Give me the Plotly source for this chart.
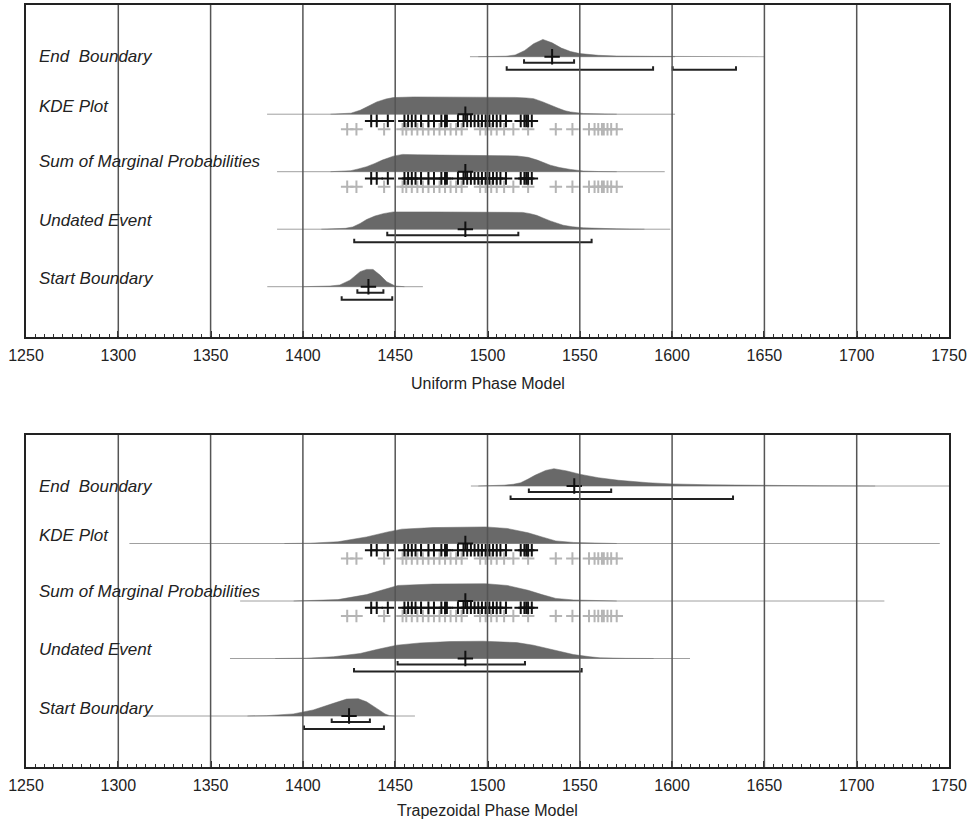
import plotly.graph_objects as go

# ---------------- data ----------------
TICK_VALUES = list(range(1250, 1751, 50))
TICK_LABELS = [str(v) for v in TICK_VALUES]
ROW_LABELS = ["End\u00a0 Boundary", "KDE Plot", "Sum of Marginal Probabilities",
              "Undated Event", "Start Boundary"]
ROW_POS = [4, 3, 2, 1, 0]
PANEL_TITLES = ["Uniform Phase Model", "Trapezoidal Phase Model"]

# Uniform phase model: density profiles (year, relative height)
U_END_X = [1495, 1505, 1510, 1515, 1520, 1525, 1530, 1535, 1540, 1545, 1550, 1560, 1570, 1590, 1620, 1650]
U_END_H = [0, 0.01, 0.03, 0.1, 0.35, 0.75, 1.0, 0.8, 0.5, 0.3, 0.18, 0.08, 0.04, 0.02, 0.01, 0]
U_KDE_X = [1415, 1421, 1426, 1431, 1436, 1440, 1445, 1449, 1460, 1480, 1500, 1515, 1521, 1525, 1530, 1534, 1538, 1542, 1545, 1552, 1560, 1570]
U_KDE_H = [0, 0.01, 0.06, 0.23, 0.5, 0.71, 0.88, 0.96, 1.0, 1.0, 0.99, 0.97, 0.94, 0.9, 0.71, 0.52, 0.36, 0.2, 0.13, 0.04, 0.01, 0]
U_SUM_X = [1415, 1421, 1426, 1430, 1434.5, 1439, 1443, 1449, 1454, 1462, 1480, 1500, 1516, 1522, 1527, 1534, 1539, 1545, 1552, 1560, 1570]
U_SUM_H = [0, 0.01, 0.06, 0.16, 0.29, 0.48, 0.67, 0.9, 1.0, 0.98, 0.96, 0.94, 0.91, 0.83, 0.67, 0.38, 0.24, 0.13, 0.04, 0.01, 0]
U_UND_X = [1410, 1418, 1423, 1427, 1431, 1434.5, 1439, 1443.6, 1449, 1470, 1500, 1519, 1523, 1526.6, 1530, 1534, 1541, 1546, 1552, 1560, 1570, 1585]
U_UND_H = [0, 0.01, 0.05, 0.13, 0.33, 0.56, 0.76, 0.9, 1.0, 1.0, 1.0, 0.97, 0.9, 0.8, 0.65, 0.48, 0.23, 0.14, 0.08, 0.04, 0.02, 0]
U_START_X = [1400, 1407.5, 1414.7, 1420, 1425.5, 1431, 1434.5, 1438, 1441.8, 1445.4, 1450, 1455]
U_START_H = [0, 0.01, 0.04, 0.1, 0.38, 0.87, 1.0, 1.0, 0.67, 0.29, 0.04, 0]
U_SPANS = [(1490.5, 1601.6), (1380.6, 1601.6), (1386, 1596), (1386, 1599), (1380.7, 1465)]
U_MEANS = [1535, 1488, 1488, 1488, 1435.5]
U_R68 = [[(1519.8, 1546.9)], [], [], [(1445.7, 1516.7)], [(1429.5, 1443.6)]]
U_R95 = [[(1510.4, 1589.7), (1600.3, 1634.6)], [], [], [(1427.8, 1556.4)], [(1421, 1448.4)]]

# Trapezoidal phase model
T_END_X = [1495, 1505, 1509, 1514, 1518, 1522, 1525.7, 1531.5, 1536, 1543, 1550.5, 1560, 1571, 1587, 1600, 1620, 1650, 1680, 1710]
T_END_H = [0, 0.02, 0.05, 0.1, 0.19, 0.4, 0.62, 0.9, 1.0, 0.87, 0.67, 0.48, 0.33, 0.19, 0.12, 0.07, 0.03, 0.01, 0]
T_KDE_X = [1390, 1404, 1419, 1434.5, 1446, 1453.6, 1470.5, 1487.8, 1499, 1510.6, 1522, 1529.5, 1537, 1546.7, 1556, 1570]
T_KDE_H = [0, 0.02, 0.1, 0.38, 0.67, 0.83, 0.92, 0.96, 0.96, 0.87, 0.62, 0.38, 0.15, 0.06, 0.02, 0]
T_SUM_X = [1395, 1408, 1419, 1434.5, 1446, 1451.5, 1470.5, 1499, 1510.6, 1522, 1529.5, 1537, 1546.7, 1556, 1570]
T_SUM_H = [0, 0.02, 0.08, 0.37, 0.71, 0.9, 0.98, 1.0, 0.9, 0.62, 0.37, 0.15, 0.06, 0.02, 0]
T_UND_X = [1385, 1402, 1416.5, 1431, 1440, 1450.8, 1463.4, 1479.7, 1497.7, 1515.8, 1524.8, 1535.7, 1546.5, 1555.5, 1561, 1575, 1590]
T_UND_H = [0, 0.02, 0.1, 0.29, 0.52, 0.77, 0.9, 0.98, 1.0, 0.92, 0.77, 0.48, 0.23, 0.1, 0.04, 0.01, 0]
T_START_X = [1370, 1380.4, 1394.8, 1405.6, 1416.5, 1423.7, 1430, 1434.5, 1440, 1444.5, 1447, 1450]
T_START_H = [0, 0.02, 0.12, 0.35, 0.73, 0.98, 1.0, 0.82, 0.44, 0.12, 0.02, 0]
T_SPANS = [(1491, 1750), (1306, 1745), (1366, 1715), (1360.5, 1609.7), (1315, 1460.7)]
T_MEANS = [1547, 1488, 1488, 1488, 1425]
T_R68 = [[(1522.4, 1567)], [], [], [(1451.3, 1520.3)], [(1415.6, 1436.3)]]
T_R95 = [[(1512.5, 1633)], [], [], [(1427.7, 1551)], [(1400.6, 1443.9)]]

# individual dated samples (shown under KDE and Sum rows)
DATES_INCLUDED = [1437, 1440, 1446, 1455, 1457, 1459, 1461, 1464, 1468, 1471, 1475, 1477, 1478,
                  1484, 1487, 1489, 1491, 1493, 1495, 1497, 1499, 1501, 1503, 1505, 1507, 1510,
                  1518, 1520, 1521, 1522, 1524]
DATES_OTHER = [1424, 1429, 1444, 1454, 1456, 1459, 1462, 1465, 1468, 1471, 1474, 1477, 1480, 1483,
               1486, 1496, 1499, 1502, 1505, 1509, 1514, 1522, 1537, 1546, 1555, 1558, 1560, 1562,
               1563, 1565, 1567, 1570]
CROSS_ROWS = [1, 2]

# ---------------- styling / layout ----------------
W, H = 971, 824
ROW_PX = 57.5
HSCALE = 17.3 / ROW_PX
LABEL_OFF = [0, 8, 10, 9, 8]  # px above baseline
X_L, X_R = 26, 949
PANELS_PX = [(5, 336.5, 286.7), (435, 767, 716)]  # top, bottom, start-baseline (px)
FONT = "Liberation Sans, Arial, sans-serif"


def px_x(px):
    return px / W


def px_y(py):
    return 1 - py / H


panels = [
    dict(dens=[(U_END_X, U_END_H), (U_KDE_X, U_KDE_H), (U_SUM_X, U_SUM_H), (U_UND_X, U_UND_H), (U_START_X, U_START_H)],
         spans=U_SPANS, means=U_MEANS, r68=U_R68, r95=U_R95),
    dict(dens=[(T_END_X, T_END_H), (T_KDE_X, T_KDE_H), (T_SUM_X, T_SUM_H), (T_UND_X, T_UND_H), (T_START_X, T_START_H)],
         spans=T_SPANS, means=T_MEANS, r68=T_R68, r95=T_R95),
]

fig = go.Figure()
shapes = []
annotations = []

for p, panel in enumerate(panels):
    xa = "x" if p == 0 else "x2"
    ya = "y" if p == 0 else "y2"
    for i in range(len(ROW_LABELS)):
        base = ROW_POS[i]
        s0, s1 = panel["spans"][i]
        fig.add_trace(go.Scatter(x=[s0, s1], y=[base, base], mode="lines",
                                 line=dict(color="#a0a0a0", width=1), xaxis=xa, yaxis=ya,
                                 hoverinfo="skip", showlegend=False))
        dx, dh = panel["dens"][i]
        fig.add_trace(go.Scatter(x=dx, y=[base + h * HSCALE for h in dh], mode="lines",
                                 fill="toself", fillcolor="#696969",
                                 line=dict(color="#696969", width=0.5), xaxis=xa, yaxis=ya,
                                 showlegend=False))
        for k, rng in enumerate([panel["r68"][i], panel["r95"][i]]):
            off = (6 if k == 0 else 13) / ROW_PX
            tick = 3.5 / ROW_PX
            for lo, hi in rng:
                yb = base - off
                fig.add_trace(go.Scatter(x=[lo, lo, hi, hi], y=[yb + tick, yb, yb, yb + tick],
                                         mode="lines", line=dict(color="#222", width=2),
                                         xaxis=xa, yaxis=ya, showlegend=False))
        if i in CROSS_ROWS:
            fig.add_trace(go.Scatter(x=DATES_OTHER, y=[base - 15 / ROW_PX] * len(DATES_OTHER),
                                     mode="markers",
                                     marker=dict(symbol="cross-thin", size=9,
                                                 line=dict(color="#b5b5b5", width=2)),
                                     xaxis=xa, yaxis=ya, showlegend=False))
            fig.add_trace(go.Scatter(x=DATES_INCLUDED, y=[base - 6.7 / ROW_PX] * len(DATES_INCLUDED),
                                     mode="markers",
                                     marker=dict(symbol="cross-thin", size=9,
                                                 line=dict(color="#111", width=2)),
                                     xaxis=xa, yaxis=ya, showlegend=False))
        fig.add_trace(go.Scatter(x=[panel["means"][i]], y=[base], mode="markers",
                                 marker=dict(symbol="cross-thin", size=11,
                                             line=dict(color="#111", width=2)),
                                 xaxis=xa, yaxis=ya, showlegend=False))
        annotations.append(dict(text=ROW_LABELS[i], xref=xa + " domain", yref=ya,
                                x=(37 - X_L) / (X_R - X_L), y=base + LABEL_OFF[i] / ROW_PX,
                                xanchor="left", yanchor="middle", showarrow=False,
                                font=dict(family=FONT, size=17, color="#222", style="italic")))
    for v in TICK_VALUES[1:-1]:
        shapes.append(dict(type="line", xref=xa, yref=ya + " domain", x0=v, x1=v, y0=0, y1=1,
                           layer="above", line=dict(color="#555", width=1.5)))


def xaxis_cfg(domain_anchor):
    return dict(domain=[px_x(X_L), px_x(X_R)], range=[1250, 1750], anchor=domain_anchor,
                tickmode="array", tickvals=TICK_VALUES, ticktext=TICK_LABELS,
                ticks="inside", ticklen=6, tickwidth=1.5, tickcolor="#222",
                minor=dict(dtick=5, tick0=1250, ticks="inside", ticklen=3, tickwidth=1,
                           tickcolor="#333", showgrid=False),
                showgrid=False, zeroline=False, showline=True, mirror=True,
                linecolor="#222", linewidth=2, ticklabelstandoff=3, automargin=False,
                tickfont=dict(family=FONT, size=16, color="#222"))


def yaxis_cfg(p, anchor):
    top, bot, sb = PANELS_PX[p]
    return dict(domain=[px_y(bot), px_y(top)],
                range=[-(bot - sb) / ROW_PX, (sb - top) / ROW_PX], anchor=anchor,
                showticklabels=False, ticks="", showgrid=False, zeroline=False,
                showline=True, mirror=True, linecolor="#222", linewidth=2, automargin=False)


for p, title in enumerate(PANEL_TITLES):
    ty = 383 if p == 0 else 810
    annotations.append(dict(text=title, xref="paper", yref="paper", x=px_x((X_L + X_R) / 2),
                            y=px_y(ty), xanchor="center", yanchor="middle", showarrow=False,
                            font=dict(family=FONT, size=16, color="#222")))

fig.update_layout(
    width=W, height=H, margin=dict(l=0, r=0, t=0, b=0, autoexpand=False),
    paper_bgcolor="white", plot_bgcolor="white",
    xaxis=xaxis_cfg("y"), yaxis=yaxis_cfg(0, "x"),
    xaxis2=xaxis_cfg("y2"), yaxis2=yaxis_cfg(1, "x2"),
    shapes=shapes, annotations=annotations, showlegend=False,
)

# remove the default page margin so the figure fills the window exactly
fig.write_html("out.html", config={"displayModeBar": False},
               post_script="document.body.style.margin='0px';document.body.style.overflow='hidden';")
